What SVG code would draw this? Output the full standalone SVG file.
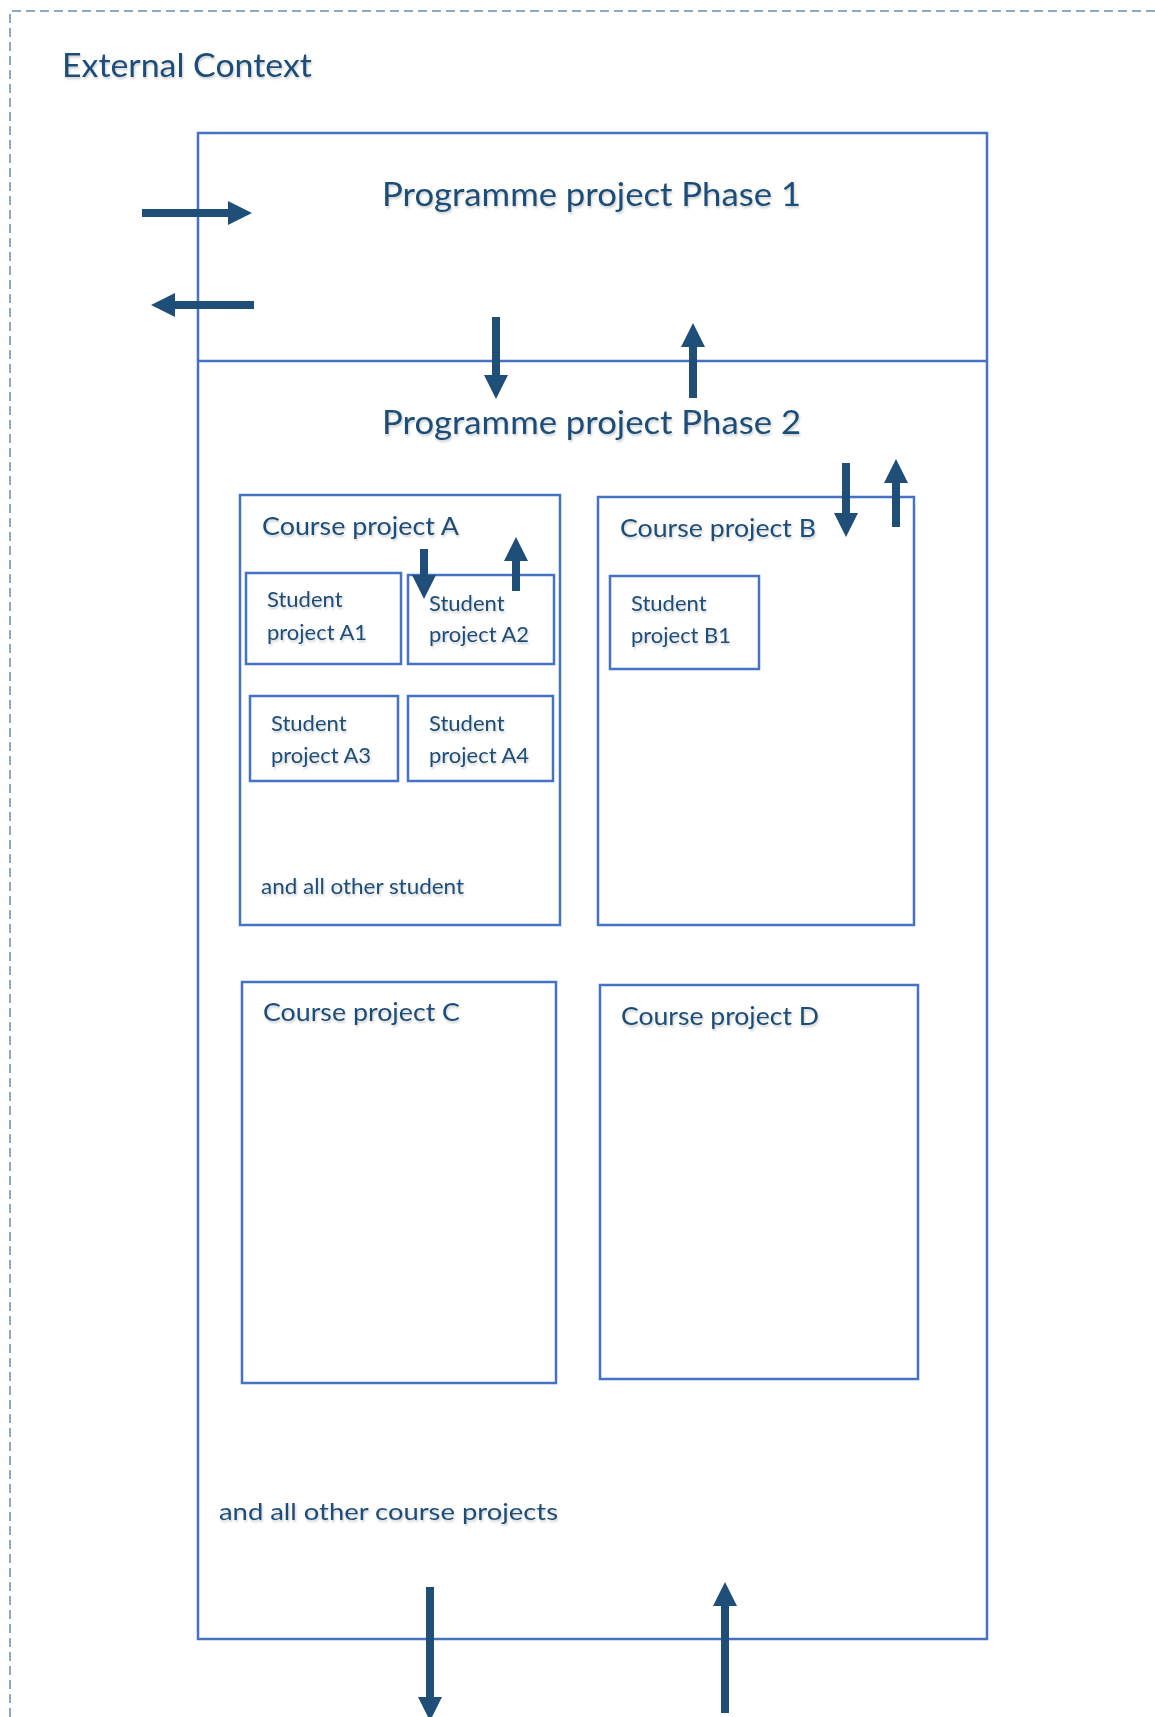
<svg xmlns="http://www.w3.org/2000/svg" width="1155" height="1717" viewBox="0 0 1155 1717">
<style>
.box{fill:none;stroke:#4472C4;stroke-width:2.5}
.t{font-family:Lato,"Liberation Sans",sans-serif;fill:#1F4E79;filter:url(#sh)}
.big{font-size:32px}
.mid{font-size:25px}
.sm{font-size:22px}
.arr{stroke:#1F4E79;stroke-width:8;fill:none;marker-end:url(#ah)}
.dash{stroke:#6A8CAF;stroke-width:1.5;stroke-dasharray:9 5;fill:none}
</style>
<defs>
<filter id="sh" x="-5%" y="-20%" width="110%" height="150%">
<feDropShadow dx="1" dy="2" stdDeviation="1" flood-color="#000" flood-opacity="0.2"/>
</filter>
<marker id="ah" viewBox="0 0 24 24" refX="0" refY="12" markerWidth="24" markerHeight="24" markerUnits="userSpaceOnUse" orient="auto">
<path d="M0,0 L24,12 L0,24 z" fill="#1F4E79"/>
</marker>
</defs>
<rect width="1155" height="1717" fill="#fff"/>
<g id="external-context">
<path class="dash" d="M10,1717 L10,11 L1155,11"/>
<text class="t big" x="62" y="77" textLength="250" lengthAdjust="spacingAndGlyphs">External Context</text>
</g>
<g id="programme-project">
<rect class="box" x="198" y="133" width="789" height="1506"/>
<line class="box" x1="198" y1="361" x2="987" y2="361"/>
</g>
<g id="phase-1">
<text class="t big" x="382" y="206" textLength="419" lengthAdjust="spacingAndGlyphs">Programme project Phase 1</text>
</g>
<g id="phase-2">
<text class="t big" x="382" y="434" textLength="419" lengthAdjust="spacingAndGlyphs">Programme project Phase 2</text>
<text class="t" font-size="24" x="219" y="1520" textLength="339" lengthAdjust="spacingAndGlyphs">and all other course projects</text>
</g>
<g id="course-a">
<rect class="box" x="240" y="495" width="320" height="430"/>
<text class="t mid" x="262" y="535" textLength="197" lengthAdjust="spacingAndGlyphs">Course project A</text>
<text class="t sm" x="261" y="894" textLength="203" lengthAdjust="spacingAndGlyphs">and all other student</text>
</g>
<g id="student-a1">
<rect class="box" x="246" y="573" width="155" height="91"/>
<text class="t sm" x="267" y="607">Student</text>
<text class="t sm" x="267" y="640" textLength="100" lengthAdjust="spacingAndGlyphs">project A1</text>
</g>
<g id="student-a2">
<rect class="box" x="408" y="575" width="146" height="89"/>
<text class="t sm" x="429" y="611">Student</text>
<text class="t sm" x="429" y="642" textLength="100" lengthAdjust="spacingAndGlyphs">project A2</text>
</g>
<g id="student-a3">
<rect class="box" x="250" y="696" width="148" height="85"/>
<text class="t sm" x="271" y="731">Student</text>
<text class="t sm" x="271" y="763" textLength="100" lengthAdjust="spacingAndGlyphs">project A3</text>
</g>
<g id="student-a4">
<rect class="box" x="408" y="696" width="145" height="85"/>
<text class="t sm" x="429" y="731">Student</text>
<text class="t sm" x="429" y="763" textLength="100" lengthAdjust="spacingAndGlyphs">project A4</text>
</g>
<g id="course-b">
<rect class="box" x="598" y="497" width="316" height="428"/>
<text class="t mid" x="620" y="537" textLength="196" lengthAdjust="spacingAndGlyphs">Course project B</text>
</g>
<g id="student-b1">
<rect class="box" x="610" y="576" width="149" height="93"/>
<text class="t sm" x="631" y="611">Student</text>
<text class="t sm" x="631" y="643" textLength="100" lengthAdjust="spacingAndGlyphs">project B1</text>
</g>
<g id="course-c">
<rect class="box" x="242" y="982" width="314" height="401"/>
<text class="t mid" x="263" y="1021" textLength="197" lengthAdjust="spacingAndGlyphs">Course project C</text>
</g>
<g id="course-d">
<rect class="box" x="600" y="985" width="318" height="394"/>
<text class="t mid" x="621" y="1025" textLength="198" lengthAdjust="spacingAndGlyphs">Course project D</text>
</g>
<g id="connectors">
<line class="arr" x1="142" y1="213" x2="228" y2="213"/>
<line class="arr" x1="254" y1="305" x2="175" y2="305"/>
<line class="arr" x1="496" y1="317" x2="496" y2="375"/>
<line class="arr" x1="693" y1="398" x2="693" y2="347"/>
<line class="arr" x1="424" y1="549" x2="424" y2="575"/>
<line class="arr" x1="516" y1="591" x2="516" y2="561"/>
<line class="arr" x1="846" y1="463" x2="846" y2="513"/>
<line class="arr" x1="896" y1="527" x2="896" y2="483"/>
<line class="arr" x1="430" y1="1587" x2="430" y2="1697"/>
<line class="arr" x1="725" y1="1713" x2="725" y2="1606"/>
</g>
</svg>
